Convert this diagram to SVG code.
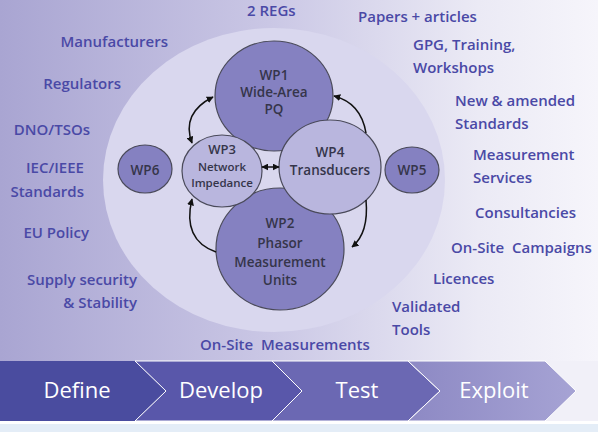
<svg xmlns="http://www.w3.org/2000/svg" width="598" height="432" viewBox="0 0 598 432">
<defs>
<linearGradient id="bg" x1="0" y1="0" x2="1" y2="0">
<stop offset="0" stop-color="#a9a5d2"/>
<stop offset="0.45" stop-color="#cac7e5"/>
<stop offset="0.8" stop-color="#ebeaf5"/>
<stop offset="1" stop-color="#f6f5fb"/>
</linearGradient>
<linearGradient id="exg" x1="0" y1="0" x2="1" y2="0">
<stop offset="0" stop-color="#8d89c4"/>
<stop offset="1" stop-color="#a6a3d4"/>
</linearGradient>
<marker id="ah" viewBox="0 0 10 10" refX="9" refY="5" markerWidth="7" markerHeight="7" markerUnits="userSpaceOnUse" orient="auto-start-reverse">
<path d="M0 0 L10 5 L0 10 z" fill="#111"/>
</marker>
<style>
.lbl{font-family:"Open Sans","Liberation Sans",sans-serif;font-size:15px;font-weight:600;fill:#4a49a6;white-space:pre}
.nd{font-family:"Open Sans","Liberation Sans",sans-serif;font-size:13.5px;font-weight:600;fill:#35354a;text-anchor:middle}
.dk{fill:#8581c1;stroke:#4a4a5a;stroke-width:1.2}
.lt{fill:#b9b6de;stroke:#4a4a5a;stroke-width:1.2}
.ch{font-family:"Open Sans","Liberation Sans",sans-serif;font-size:22px;fill:#ffffff;text-anchor:middle}
.con{fill:none;stroke:#111;stroke-width:1.5}
</style>
</defs>
<rect x="0" y="0" width="598" height="432" fill="#ffffff"/>
<rect x="0" y="0" width="598" height="361" fill="url(#bg)"/>
<rect x="0" y="361" width="598" height="60" fill="#f1f0f8"/>
<rect x="0" y="424" width="598" height="8" fill="#e4edf7"/>
<ellipse cx="274" cy="180" rx="171" ry="152" fill="#d9d7ee"/>

<g id="define"><polygon points="0,361 135,361 166,391 135,421 0,421" fill="#4a4c9f"/><text class="ch" x="77" y="398">Define</text></g>
<g id="develop"><polygon points="135,361 272,361 302,391 272,421 135,421 166,391" fill="#5957aa" stroke="#ffffff" stroke-width="1"/><text class="ch" x="221" y="398">Develop</text></g>
<g id="test"><polygon points="272,361 408,361 440,391 408,421 272,421 302,391" fill="#6b68b3" stroke="#ffffff" stroke-width="1"/><text class="ch" x="357" y="398">Test</text></g>
<g id="exploit"><polygon points="408,361 545,361 576,391 545,421 408,421 440,391" fill="url(#exg)" stroke="#ffffff" stroke-width="1"/><text class="ch" x="494" y="398">Exploit</text></g>

<g id="labels">
<text class="lbl" x="247" y="16">2 REGs</text>
<text class="lbl" x="358" y="22">Papers + articles</text>
<text class="lbl" x="413" y="50">GPG, Training,</text>
<text class="lbl" x="413" y="73">Workshops</text>
<text class="lbl" x="455" y="106">New &amp; amended</text>
<text class="lbl" x="455" y="129">Standards</text>
<text class="lbl" x="473" y="160">Measurement</text>
<text class="lbl" x="473" y="183">Services</text>
<text class="lbl" x="475" y="218">Consultancies</text>
<text class="lbl" x="451" y="253" xml:space="preserve">On-Site  Campaigns</text>
<text class="lbl" x="433" y="284">Licences</text>
<text class="lbl" x="392" y="312">Validated</text>
<text class="lbl" x="392" y="335">Tools</text>
<text class="lbl" x="200" y="350" xml:space="preserve">On-Site  Measurements</text>
<text class="lbl" x="168" y="47" text-anchor="end">Manufacturers</text>
<text class="lbl" x="121" y="89" text-anchor="end">Regulators</text>
<text class="lbl" x="90" y="135" text-anchor="end">DNO/TSOs</text>
<text class="lbl" x="84" y="173" text-anchor="end">IEC/IEEE</text>
<text class="lbl" x="84" y="197" text-anchor="end">Standards</text>
<text class="lbl" x="89" y="238" text-anchor="end">EU Policy</text>
<text class="lbl" x="137" y="285" text-anchor="end">Supply security</text>
<text class="lbl" x="137" y="308" text-anchor="end">&amp; Stability</text>
</g>

<g id="wp1"><ellipse class="dk" cx="274" cy="96" rx="59" ry="55"/><text class="nd" x="274" y="80">WP1</text><text class="nd" x="274" y="97">Wide-Area</text><text class="nd" x="274" y="114">PQ</text></g>
<g id="wp2"><ellipse class="dk" cx="280" cy="249" rx="64" ry="61"/><text class="nd" x="280" y="228">WP2</text><text class="nd" x="280" y="248">Phasor</text><text class="nd" x="280" y="267">Measurement</text><text class="nd" x="280" y="285">Units</text></g>
<g id="wp3"><ellipse class="lt" cx="222" cy="171" rx="40" ry="36"/><text class="nd" x="222" y="154" style="font-size:13px">WP3</text><text class="nd" x="222" y="170.5" style="font-size:11.5px">Network</text><text class="nd" x="222" y="187" style="font-size:11.5px">Impedance</text></g>
<g id="wp4"><ellipse class="lt" cx="330" cy="167" rx="51" ry="47"/><text class="nd" x="330" y="157">WP4</text><text class="nd" x="330" y="175">Transducers</text></g>
<g id="wp5"><ellipse class="dk" cx="412" cy="170" rx="27" ry="23"/><text class="nd" x="412" y="175">WP5</text></g>
<g id="wp6"><ellipse class="dk" cx="145" cy="169" rx="27" ry="24"/><text class="nd" x="145" y="175">WP6</text></g>

<g id="connectors">
<path class="con" d="M213 97 Q181 113 192 143" marker-start="url(#ah)" marker-end="url(#ah)"/>
<path class="con" d="M262 167 L279 167" marker-start="url(#ah)" marker-end="url(#ah)"/>
<path class="con" d="M216 252 Q182 240 192 199" marker-end="url(#ah)"/>
<path class="con" d="M366 133 Q361 103 334 96" marker-end="url(#ah)"/>
<path class="con" d="M366 200 Q369 233 352 247" marker-end="url(#ah)"/>
</g>
</svg>
